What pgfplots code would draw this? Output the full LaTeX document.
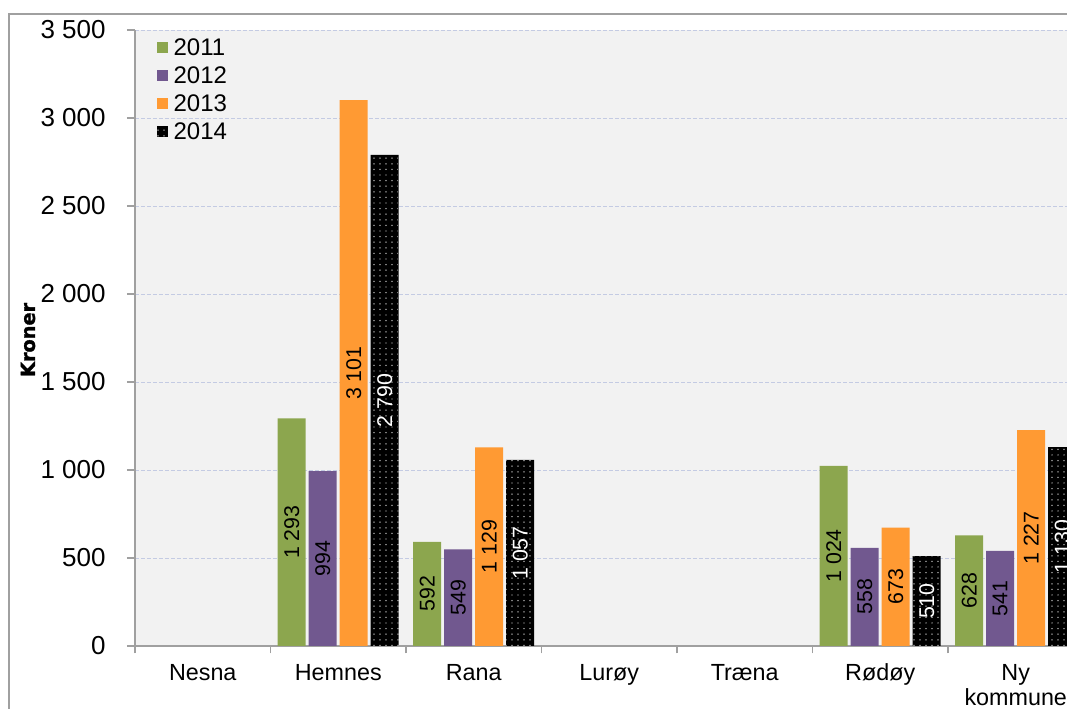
\documentclass[border=0pt]{standalone}
\usepackage{pgfplots}
\pgfplotsset{compat=1.18}
\usepackage{pgfplotstable}
\usepackage{fontspec}
\setmainfont{Liberation Sans}
\newfontfamily\ylabfont[BoldFeatures={FakeBold=1.5}]{DejaVu Sans}
\usetikzlibrary{patterns}
\definecolor{c2011}{HTML}{8CA64E}
\definecolor{c2012}{HTML}{71588F}
\definecolor{c2013}{HTML}{FF9A33}
\definecolor{gridc}{HTML}{C4CBE3}
\definecolor{axc}{HTML}{A0A0A0}
\pgfdeclarepatternformonly{whitedots}{\pgfqpoint{-1pt}{-1pt}}{\pgfqpoint{5.5pt}{5.5pt}}{\pgfqpoint{4.5pt}{4.2pt}}{\pgfpathcircle{\pgfqpoint{1.5pt}{1.5pt}}{0.55pt}\pgfusepath{fill}}

% categories: 0 Nesna, 1 Hemnes, 2 Rana, 3 Luroy, 4 Traena, 5 Rodoy, 6 Ny kommune
\pgfplotstableread{
x y
1 1293
2 592
5 1024
6 628
}\dataA
\pgfplotstableread{
x y
1 994
2 549
5 558
6 541
}\dataB
\pgfplotstableread{
x y
1 3101
2 1129
5 673
6 1227
}\dataC
\pgfplotstableread{
x y
1 2790
2 1057
5 510
6 1130
}\dataD

\begin{document}
\begin{tikzpicture}
\useasboundingbox (-101.25pt,-47.25pt) rectangle (699pt,484.5pt);
\clip (-101.25pt,-47.25pt) rectangle (699pt,484.5pt);
\draw[axc, line width=1.4pt] (-94.5pt,-60pt) -- (-94.5pt,474pt) -- (720pt,474pt);
\begin{axis}[
  width=711.375pt, height=462pt, scale only axis,
  xmin=-0.5, xmax=6.5, ymin=0, ymax=3500,
  ybar=2.25pt, bar width=21pt,
  axis lines*=left,
  axis line style={axc, line width=0.8pt},
  axis background/.style={fill=gray!10},
  ymajorgrids,
  major grid style={gridc, dash pattern=on 3pt off 1.5pt, line width=0.7pt},
  xtick={0,...,6},
  xticklabels={Nesna,Hemnes,Rana,Lurøy,Træna,Rødøy,{Ny\\kommune}},
  minor xtick={-0.5,0.5,...,6.5},
  major x tick style={draw=none},
  minor x tick style={axc, line width=0.8pt},
  minor tick length=5.5pt,
  major tick length=6pt,
  ytick={0,500,...,3500},
  y tick style={axc, line width=0.8pt},
  tick align=outside,
  scaled y ticks=false,
  /pgf/number format/fixed,
  /pgf/number format/precision=0,
  /pgf/number format/1000 sep={\ },
  /pgf/number format/assume math mode=true,
  x tick label style={font=\fontsize{17.5}{19}\selectfont, black, align=center, yshift=-4pt},
  y tick label style={font=\fontsize{19.5}{20}\selectfont, black, xshift=-12.5pt},
  ylabel={\ylabfont\bfseries Kroner},
  every axis y label/.style={at={(axis description cs:-0.1128,0.4968)}, anchor=center, rotate=90, font=\fontsize{14.5}{16}\selectfont},
  legend style={at={(axis description cs:0.0232,0.9865)}, anchor=north west, draw=none, fill=none, font=\fontsize{18}{18}\selectfont, row sep=8pt, inner sep=0pt, nodes={text height=13pt, text depth=0pt, inner ysep=0pt, inner xsep=4pt}},
  legend cell align=left,
  legend image code/.code={\path[#1] (0pt,-4.1pt) rectangle (8.25pt,4.1pt);},
  nodes near coords,
  visualization depends on={y \as \rawy},
  every node near coord/.append style={font=\fontsize{16}{16}\selectfont, anchor=center, shift={(axis direction cs:0,-\rawy/2)}, rotate=90},
]
\addplot[fill=c2011, draw=none] table[x=x,y=y] {\dataA};
\addplot[fill=c2012, draw=none] table[x=x,y=y] {\dataB};
\addplot[fill=c2013, draw=none] table[x=x,y=y] {\dataC};
\addplot[fill=black, draw=none, postaction={pattern=whitedots, pattern color=white!85!black}, every node near coord/.append style={white}] table[x=x,y=y] {\dataD};
\legend{2011,2012,2013,2014}
\end{axis}
\end{tikzpicture}
\end{document}
